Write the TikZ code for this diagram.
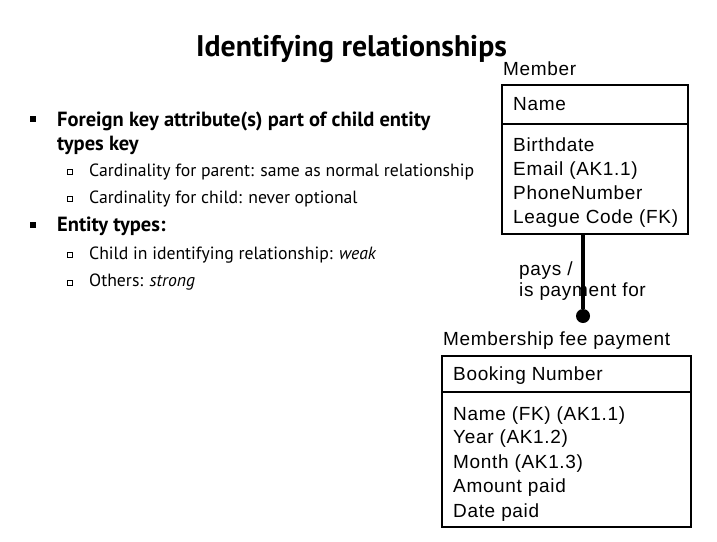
\documentclass[tikz,border=0pt]{standalone}
\usepackage{fontspec}
\setmainfont{PT Sans}
\newfontfamily\erfont[LetterSpace=3.5]{Liberation Sans}
\begin{document}
\begin{tikzpicture}[x=1pt,y=-1pt]
\tikzstyle{every node}+=[inner sep=0pt]
\tikzstyle{entity}=[draw=black, line width=2pt, anchor=north west]
\tikzstyle{attr}=[anchor=base west, font=\erfont\fontsize{19}{19}\selectfont]
\tikzstyle{bigbul}=[fill=black, minimum size=6pt]
\tikzstyle{smallbul}=[draw=black, line width=0.8pt, minimum size=5pt]
\tikzstyle{maintext}=[anchor=base west, font=\bfseries\fontsize{20.5}{20.5}\selectfont]
\tikzstyle{subtext}=[anchor=base west, font=\fontsize{17.7}{17.7}\selectfont]
\useasboundingbox (0,0) rectangle (717,541);
% slide text
\node[anchor=base, font=\bfseries\fontsize{29.8}{29.8}\selectfont] (title) at (351.5,56.7) {Identifying relationships};
\node[bigbul] (b1) at (33,119) {};
\node[maintext] (fk1) at (57,126) {Foreign key attribute(s) part of child entity};
\node[maintext] (fk2) at (57,150.7) {types key};
\node[smallbul] (s1) at (69.5,171.7) {};
\node[subtext] (card1) at (89,176) {Cardinality for parent: same as normal relationship};
\node[smallbul] (s2) at (69.5,199) {};
\node[subtext] (card2) at (89,203.3) {Cardinality for child: never optional};
\node[bigbul] (b2) at (33,224.7) {};
\node[maintext] (et) at (57,231.7) {Entity types:};
\node[smallbul] (s3) at (69.5,255) {};
\node[subtext] (child) at (89,259.3) {Child in identifying relationship: \textit{weak}};
\node[smallbul] (s4) at (69.5,282.4) {};
\node[subtext] (others) at (89,286.7) {Others: \textit{strong}};
% Member entity
\node[attr] (memberlbl) at (503,75.7) {Member};
\node[entity, minimum width=186pt, minimum height=149pt] (member) at (501,84) {};
\draw[line width=2pt] ([yshift=-40pt]member.north west) -- ([yshift=-40pt]member.north east);
\node[attr] (mname) at (513,110) {Name};
\node[attr] (mbirth) at (513,151) {Birthdate};
\node[attr] (memail) at (513,175.5) {Email (AK1.1)};
\node[attr] (mphone) at (513,199.7) {PhoneNumber};
\node[attr] (mleague) at (513,223.5) {League Code (FK)};
% relationship
\node[fill=black, circle, minimum size=14pt] (dot) at (583,316) {};
\draw[line width=4pt] (member.south -| dot) -- (dot);
\node[attr] (pays) at (519,275) {pays /};
\node[attr] (payfor) at (519,296.7) {is payment for};
% Membership fee payment entity
\node[attr] (feelbl) at (443,345) {Membership fee payment};
\node[entity, minimum width=249pt, minimum height=171pt] (fee) at (441,355) {};
\draw[line width=2pt] ([yshift=-37pt]fee.north west) -- ([yshift=-37pt]fee.north east);
\node[attr] (fbook) at (453,380) {Booking Number};
\node[attr] (fname) at (453,420) {Name (FK) (AK1.1)};
\node[attr] (fyear) at (453,443.5) {Year (AK1.2)};
\node[attr] (fmonth) at (453,468) {Month (AK1.3)};
\node[attr] (famount) at (453,492.7) {Amount paid};
\node[attr] (fdate) at (453,517) {Date paid};
\end{tikzpicture}
\end{document}
